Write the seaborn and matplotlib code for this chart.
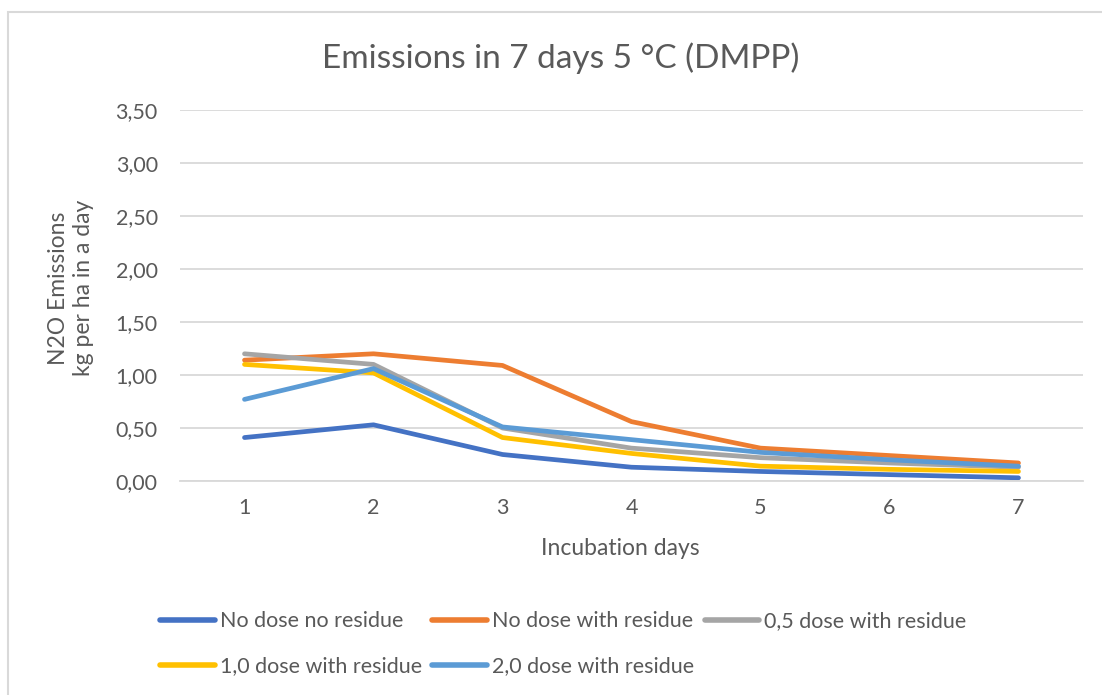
import numpy as np
import pandas as pd
import matplotlib
matplotlib.use('Agg')
import matplotlib.pyplot as plt
import seaborn as sns
from matplotlib.patches import Rectangle
from matplotlib.ticker import FuncFormatter

# ===================== data =====================
days = [1, 2, 3, 4, 5, 6, 7]
series_names = ['No dose no residue', 'No dose with residue', '0,5 dose with residue',
                '1,0 dose with residue', '2,0 dose with residue']
no_dose_no_residue = [0.41, 0.53, 0.25, 0.13, 0.09, 0.06, 0.03]
no_dose_with_residue = [1.14, 1.20, 1.09, 0.56, 0.31, 0.24, 0.17]
dose05_with_residue = [1.20, 1.10, 0.50, 0.31, 0.22, 0.17, 0.13]
dose10_with_residue = [1.10, 1.02, 0.41, 0.26, 0.14, 0.11, 0.09]
dose20_with_residue = [0.77, 1.06, 0.51, 0.39, 0.27, 0.20, 0.14]
colors = ['#4472C4', '#ED7D31', '#A5A5A5', '#FFC000', '#5B9BD5']

values = [no_dose_no_residue, no_dose_with_residue, dose05_with_residue,
          dose10_with_residue, dose20_with_residue]
df = pd.DataFrame({
    'day': [str(d) for _ in series_names for d in days],
    'value': [v for vals in values for v in vals],
    'series': [s for s in series_names for _ in days],
})

# ===================== style =====================
sns.set_theme(style='white')
plt.rcParams['font.family'] = ['Lato', 'DejaVu Sans']
text_color = '#595959'
grid_color = '#D9D9D9'

fig = plt.figure(figsize=(11.02, 6.95), dpi=100)
W, H = 1102, 695
ax = fig.add_axes([180 / W, 1 - 481 / H, (1083 - 180) / W, (481 - 110) / H])

sns.lineplot(data=df, x='day', y='value', hue='series', hue_order=series_names,
             palette=colors, linewidth=3.4, sort=False, ax=ax, legend=True)

ax.set_ylim(0, 3.5)
ax.set_xlim(-0.5, 6.5)
ax.set_yticks(np.arange(0, 3.51, 0.5))
ax.yaxis.set_major_formatter(FuncFormatter(lambda v, p: f'{v:.2f}'.replace('.', ',')))
ax.grid(axis='y', color=grid_color, linewidth=1.3)
ax.set_axisbelow(True)
for s in ['top', 'right', 'left']:
    ax.spines[s].set_visible(False)
ax.spines['bottom'].set_color(grid_color)
ax.spines['bottom'].set_linewidth(1.3)
ax.tick_params(axis='both', length=0, labelsize=15.5, labelcolor=text_color)
ax.tick_params(axis='y', pad=16)
ax.tick_params(axis='x', pad=12)

ax.set_xlabel('Incubation days', fontsize=16.5, color=text_color)
ax.xaxis.set_label_coords((620 - 180) / 903, -57 / 371)
ax.set_ylabel('N2O Emissions\nkg per ha in a day', fontsize=16.5, color=text_color,
              linespacing=1.25)
ax.yaxis.set_label_coords(-(180 - 94) / 903, 0.52)
fig.text(561 / W, 1 - 58 / H, 'Emissions in 7 days 5 °C (DMPP)', ha='center', va='center',
         fontsize=24, color=text_color)

# legend below the chart, Excel-style (filled row by row)
handles, labels = ax.get_legend_handles_labels()
ax.get_legend().remove()
order = [0, 3, 1, 4, 2]
leg = fig.legend([handles[i] for i in order], [labels[i] for i in order],
                 loc='upper left', bbox_to_anchor=(141 / W, 1 - 592 / H),
                 ncol=3, frameon=False, fontsize=15.5, handlelength=2.55, handletextpad=0.2,
                 columnspacing=0.5, labelspacing=1.15)
for t in leg.get_texts():
    t.set_color(text_color)
for line in leg.get_lines():
    line.set_linewidth(4)

# chart area border
fig.patches.append(Rectangle((8 / W, -0.05), 1.1, 1 - 12 / H + 0.05, transform=fig.transFigure,
                             fill=False, edgecolor=grid_color, linewidth=1.5))

fig.savefig('out.png', dpi=100)
